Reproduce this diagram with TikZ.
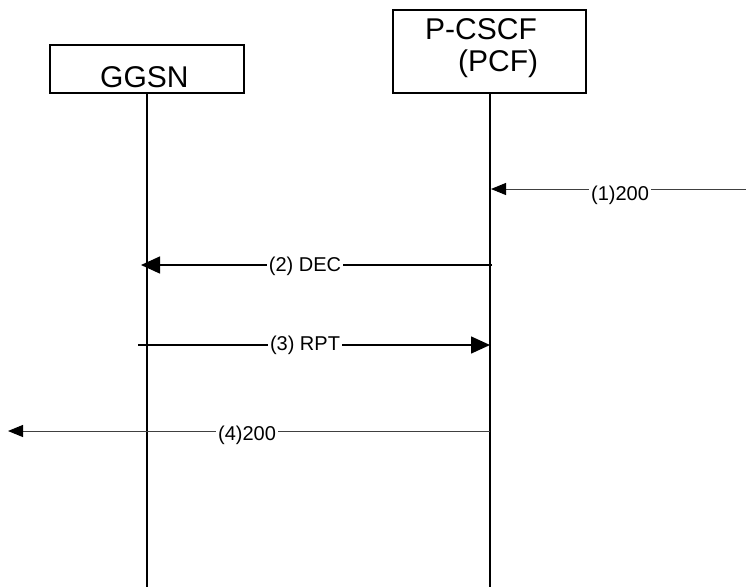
\documentclass[tikz,border=0pt]{standalone}
\usepackage{fontspec}
\setmainfont{Liberation Sans}
\usetikzlibrary{arrows.meta}
\begin{document}
\begin{tikzpicture}[x=1pt,y=-1pt,
  entity/.style={draw=black,line width=1.5pt,inner sep=0pt,anchor=north west},
  boxtext/.style={font=\fontsize{30}{30}\selectfont,inner sep=0pt,anchor=base west},
  lifeline/.style={draw=black,line width=1.5pt},
  thinmsg/.style={draw=black!75,line width=1pt,-{Triangle[length=15pt,width=12pt,color=black]}},
  thickmsg/.style={draw=black,line width=1.5pt,-{Triangle[length=19pt,width=17pt]}},
  lbl/.style={font=\fontsize{20}{20}\selectfont,fill=white,inner xsep=2pt,inner ysep=1pt,anchor=base}]
\useasboundingbox (0,0) rectangle (746,587);
% entity boxes
\node[entity,minimum width=194pt,minimum height=48pt] (ggsn) at (49,44) {};
\node[boxtext] (ggsntext) at (100,87) {GGSN};
\node[entity,minimum width=193pt,minimum height=83pt] (pcscf) at (392,9) {};
\node[boxtext] (pcscftext) at (425,39) {P-CSCF};
\node[boxtext] (pcftext) at (458,71) {(PCF)};
% lifelines
\coordinate (gtop) at (147,92);
\coordinate (gbot) at (147,587);
\coordinate (ptop) at (490,92);
\coordinate (pbot) at (490,587);
\draw[lifeline] (gtop) -- (gbot);
\draw[lifeline] (ptop) -- (pbot);
% message endpoints
\coordinate (m1s) at (746,189);
\coordinate (m1e) at (491,189);
\coordinate (m2s) at (492,265);
\coordinate (m2e) at (141,265);
\coordinate (m3s) at (138,345);
\coordinate (m3e) at (490,345);
\coordinate (m4s) at (490,431);
\coordinate (m4e) at (8,431);
% messages
\draw[thinmsg] (m1s) -- (m1e);
\node[lbl] (l1) at (620,200) {(1)200};
\draw[thickmsg] (m2s) -- (m2e);
\node[lbl] (l2) at (305,271) {(2) DEC};
\draw[thickmsg] (m3s) -- (m3e);
\node[lbl] (l3) at (305,350) {(3) RPT};
\draw[thinmsg] (m4s) -- (m4e);
\node[lbl] (l4) at (247,440) {(4)200};
\end{tikzpicture}
\end{document}
